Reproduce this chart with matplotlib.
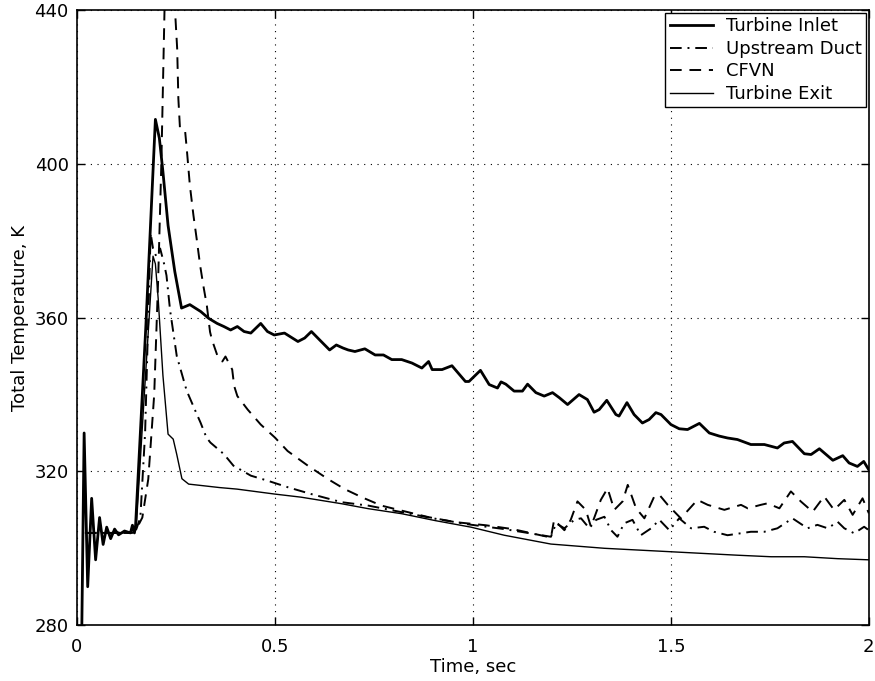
import matplotlib
matplotlib.use("Agg")
import matplotlib.pyplot as plt

plt.rcParams['font.family'] = ['DejaVu Sans']

# Turbine Inlet (thick solid)
inlet_t = [0.012, 0.018, 0.027, 0.037, 0.047, 0.057, 0.066, 0.075, 0.085, 0.095,
           0.105, 0.12, 0.135, 0.14, 0.145, 0.148, 0.174, 0.198, 0.208, 0.217,
           0.230, 0.247, 0.264, 0.285, 0.3125, 0.333, 0.354, 0.371, 0.388, 0.405,
           0.422, 0.439, 0.464, 0.481, 0.498, 0.524, 0.558, 0.575, 0.592, 0.613,
           0.638, 0.655, 0.672, 0.685, 0.702, 0.727, 0.753, 0.774, 0.795, 0.820,
           0.846, 0.871, 0.888, 0.897, 0.922, 0.947, 0.981, 0.990, 1.019, 1.041,
           1.062, 1.071, 1.083, 1.104, 1.125, 1.138, 1.159, 1.180, 1.201, 1.218,
           1.239, 1.268, 1.289, 1.306, 1.319, 1.338, 1.361, 1.369, 1.389, 1.407,
           1.428, 1.445, 1.462, 1.475, 1.500, 1.521, 1.542, 1.572, 1.597, 1.622,
           1.643, 1.668, 1.702, 1.736, 1.769, 1.786, 1.807, 1.837, 1.854, 1.875,
           1.909, 1.934, 1.950, 1.971, 1.987, 2.000]
inlet_T = [278, 330, 290, 313, 297, 308, 301, 305.5, 302.5, 305,
           303.5, 304.5, 304, 306, 304, 306, 358, 411.6, 406.7, 398,
           384, 372, 362.5, 363.4, 361.6, 359.8, 358.5, 357.7, 356.8, 357.7,
           356.4, 356.0, 358.5, 356.4, 355.5, 356.0, 353.8, 354.7, 356.4, 354.2,
           351.6, 352.9, 352.1, 351.6, 351.2, 351.9, 350.3, 350.3, 349.1, 349.1,
           348.2, 346.9, 348.6, 346.5, 346.5, 347.5, 343.4, 343.4, 346.3, 342.6,
           341.7, 343.3, 342.7, 340.9, 340.9, 342.7, 340.5, 339.6, 340.5, 339.2,
           337.4, 340.0, 338.7, 335.4, 336.1, 338.5, 334.8, 334.4, 337.9, 334.8,
           332.6, 333.5, 335.3, 334.8, 332.2, 331.1, 330.9, 332.5, 330.0, 329.2,
           328.7, 328.3, 327.0, 327.0, 326.1, 327.4, 327.8, 324.6, 324.4, 325.9,
           322.9, 324.1, 322.2, 321.3, 322.6, 320.4]

# Upstream Duct (dash-dot)
up_t = [0.02, 0.06, 0.10, 0.14, 0.15, 0.16, 0.172, 0.18, 0.186, 0.192,
        0.200, 0.210, 0.220, 0.226, 0.235, 0.252, 0.277, 0.300, 0.312, 0.327,
        0.337, 0.371, 0.395, 0.439, 0.481, 0.532, 0.592, 0.668, 0.736, 0.820,
        0.905, 0.990, 1.079, 1.150, 1.197, 1.210, 1.231, 1.256, 1.273, 1.294,
        1.311, 1.332, 1.349, 1.365, 1.382, 1.403, 1.424, 1.450, 1.471, 1.496,
        1.521, 1.551, 1.584, 1.609, 1.643, 1.702, 1.736, 1.769, 1.807, 1.845,
        1.870, 1.896, 1.921, 1.938, 1.963, 1.988, 2.0]
up_T = [304, 304, 304, 304, 305, 308, 330, 360, 382, 378,
        376, 378, 374, 371, 362, 350, 341, 335.5, 332.7, 328.8,
        327.5, 324.5, 321.5, 318.9, 317.6, 315.9, 314.1, 312.0, 311.1, 309.4,
        307.7, 306.2, 305.0, 303.8, 303.0, 306.5, 305.2, 307.4, 307.8, 305.2,
        307.4, 308.2, 304.7, 303.0, 306.5, 307.4, 303.4, 305.2, 307.4, 304.7,
        307.8, 305.2, 305.6, 304.3, 303.4, 304.3, 304.3, 305.2, 307.8, 305.2,
        306.1, 305.2, 306.9, 305.2, 303.9, 305.6, 304.7]

# CFVN (dashed)
cf_t = [0.02, 0.06, 0.10, 0.14, 0.15, 0.165, 0.18, 0.195, 0.205, 0.213,
        0.218, 0.222, 0.235, 0.247, 0.253, 0.256, 0.260, 0.273, 0.277, 0.285,
        0.294, 0.302, 0.311, 0.319, 0.328, 0.336, 0.341, 0.354, 0.367, 0.375,
        0.392, 0.397, 0.405, 0.431, 0.464, 0.5, 0.532, 0.583, 0.634, 0.676,
        0.719, 0.769, 0.820, 0.888, 0.956, 1.032, 1.1, 1.197, 1.205, 1.231,
        1.247, 1.264, 1.285, 1.298, 1.323, 1.340, 1.357, 1.378, 1.391, 1.412,
        1.433, 1.458, 1.471, 1.492, 1.525, 1.567, 1.593, 1.635, 1.677, 1.694,
        1.727, 1.744, 1.774, 1.803, 1.828, 1.858, 1.887, 1.912, 1.938, 1.959,
        1.984, 2.0]
cf_T = [304, 304, 304, 304, 305, 308, 318, 340, 370, 400,
        425, 445, 458, 441, 430, 417, 409.4, 408.6, 404.2, 394.5,
        386.7, 380.7, 373.6, 368.4, 363.1, 356.3, 354.2, 350.3, 348.6, 349.9,
        346.5, 342.2, 339.6, 336.1, 332.2, 328.8, 325.3, 321.5, 318.0, 315.4,
        313.3, 311.1, 309.8, 308.1, 306.8, 306.0, 305.0, 302.8, 307.4, 304.7,
        307.4, 312.2, 310.0, 305.6, 312.6, 315.6, 310.0, 312.2, 316.5, 310.4,
        307.8, 313.5, 313.9, 311.3, 307.8, 312.6, 311.3, 310.0, 311.3, 310.4,
        311.3, 311.7, 310.4, 314.8, 312.2, 309.5, 313.5, 310.0, 312.6, 308.7,
        313.0, 309.1]

# Turbine Exit (thin solid)
exit_t = [0.012, 0.018, 0.027, 0.037, 0.047, 0.057, 0.066, 0.075, 0.085, 0.095,
          0.11, 0.13, 0.145, 0.150, 0.170, 0.192, 0.198, 0.205, 0.217, 0.230,
          0.243, 0.252, 0.265, 0.282, 0.317, 0.360, 0.404, 0.5, 0.566, 0.668,
          0.736, 0.820, 0.905, 0.995, 1.079, 1.197, 1.332, 1.5, 1.668, 1.753,
          1.837, 1.921, 2.0]
exit_T = [278, 326, 292, 311, 298, 307, 302, 305, 303, 304.5,
          304, 304, 305, 306, 340, 376, 374, 365, 345, 329.7,
          328.4, 324.4, 318.1, 316.7, 316.3, 315.8, 315.4, 314.1, 313.3, 311.6,
          310.3, 309.0, 307.2, 305.5, 303.4, 301.1, 300.0, 299.1, 298.2, 297.8,
          297.8, 297.3, 297.0]

fig = plt.figure(figsize=(8.75, 6.81), dpi=100)
ax = fig.add_axes([0.088, 0.082, 0.905, 0.903])

ax.plot(inlet_t, inlet_T, color='black', lw=2.0, label='Turbine Inlet')
ax.plot(up_t, up_T, color='black', lw=1.4, dashes=(6, 3, 1, 3), label='Upstream Duct')
ax.plot(cf_t, cf_T, color='black', lw=1.4, dashes=(6, 4), label='CFVN')
ax.plot(exit_t, exit_T, color='black', lw=1.0, label='Turbine Exit')

ax.set_xlim(0, 2)
ax.set_ylim(280, 440)
ax.set_xticks([0, 0.5, 1, 1.5, 2])
ax.set_xticklabels(['0', '0.5', '1', '1.5', '2'])
ax.set_yticks([280, 320, 360, 400, 440])
ax.tick_params(direction='in', top=True, right=True, labelsize=13, length=6, width=1)
ax.tick_params(axis='x', pad=9)
ax.tick_params(axis='y', pad=6)
ax.grid(True, color='black', linestyle=(0, (1, 5)), lw=0.8)
for s in ax.spines.values():
    s.set_linewidth(1.2)

ax.set_xlabel('Time, sec', fontsize=13, labelpad=2)
ax.set_ylabel('Total Temperature, K', fontsize=13, labelpad=4)

leg = ax.legend(loc='upper right', fontsize=13, fancybox=False, framealpha=1,
                edgecolor='black', handlelength=2.4, borderaxespad=0.15,
                labelspacing=0.25, borderpad=0.25, handletextpad=0.7)
leg.get_frame().set_linewidth(1.0)

fig.savefig('out.png', dpi=100)
